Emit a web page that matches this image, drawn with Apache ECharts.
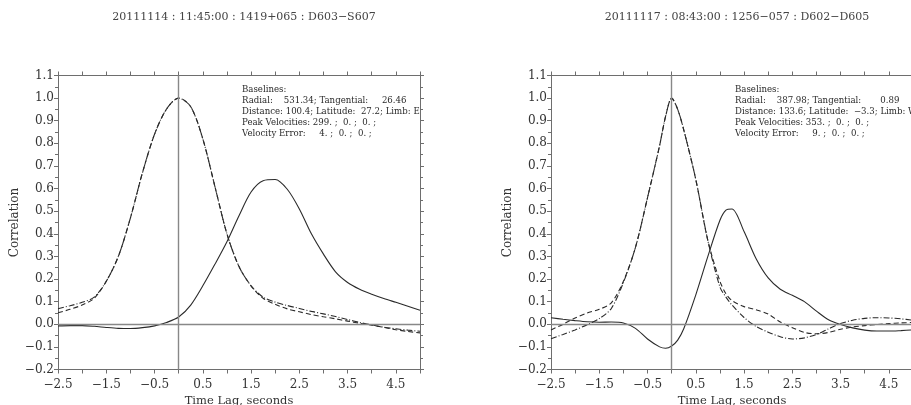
<!DOCTYPE html>
<html><head><meta charset="utf-8">
<script src="https://cdn.jsdelivr.net/npm/echarts@6/dist/echarts.min.js"></script>
<style>html,body{margin:0;padding:0;background:#fff;}#c{width:911px;height:405px;}</style>
</head><body><div id="c"></div>
<script>
// ---- Left chart data ----
var titleL = '20111114 : 11:45:00 : 1419+065 : D603\u2212S607';
var infoL = ['Baselines:', 'Radial:    531.34; Tangential:     26.46', 'Distance: 100.4; Latitude:  27.2; Limb: E', 'Peak Velocities: 299. ;  0. ;  0. ;', 'Velocity Error:     4. ;  0. ;  0. ;'];
var xL = [-2.5,-2.25,-2.0,-1.75,-1.5,-1.25,-1.0,-0.75,-0.5,-0.25,0,0.25,0.5,0.75,1.0,1.25,1.5,1.75,2.0,2.25,2.5,2.75,3.0,3.25,3.5,3.75,4.0,4.25,4.5,4.75,5.0];
var dashedL = [0.051,0.066,0.085,0.115,0.19,0.30,0.47,0.67,0.84,0.952,1.0,0.962,0.82,0.61,0.40,0.255,0.17,0.115,0.088,0.068,0.055,0.043,0.033,0.024,0.014,0.004,-0.004,-0.014,-0.024,-0.032,-0.038];
var dashDotL = [0.069,0.082,0.097,0.12,0.19,0.30,0.47,0.67,0.84,0.952,1.0,0.962,0.82,0.61,0.40,0.255,0.17,0.12,0.098,0.083,0.07,0.057,0.046,0.034,0.021,0.008,-0.003,-0.013,-0.02,-0.026,-0.031];
var solidL = [-0.007,-0.006,-0.006,-0.009,-0.014,-0.018,-0.019,-0.015,-0.007,0.008,0.032,0.085,0.17,0.265,0.365,0.48,0.585,0.635,0.64,0.597,0.51,0.40,0.31,0.232,0.185,0.155,0.133,0.114,0.097,0.08,0.062];

// ---- Right chart data ----
var titleR = '20111117 : 08:43:00 : 1256\u2212057 : D602\u2212D605';
var infoR = ['Baselines:', 'Radial:    387.98; Tangential:       0.89', 'Distance: 133.6; Latitude:  \u22123.3; Limb: W', 'Peak Velocities: 353. ;  0. ;  0. ;', 'Velocity Error:     9. ;  0. ;  0. ;'];
var xR = [-2.5,-2.25,-2.0,-1.75,-1.5,-1.25,-1.0,-0.75,-0.5,-0.25,-0.125,0,0.125,0.25,0.5,0.75,1.0,1.125,1.25,1.5,1.75,2.0,2.25,2.5,2.75,3.0,3.25,3.5,3.75,4.0,4.25,4.5,4.75,5.0];
var dashedR = [-0.025,0.0,0.028,0.05,0.066,0.095,0.19,0.34,0.56,0.79,0.92,1.0,0.95,0.86,0.64,0.37,0.19,0.135,0.105,0.078,0.064,0.045,0.01,-0.015,-0.036,-0.042,-0.036,-0.022,-0.012,-0.006,-0.001,0.003,0.006,0.008];
var dashDotR = [-0.064,-0.045,-0.025,-0.002,0.025,0.07,0.185,0.34,0.56,0.79,0.92,1.0,0.95,0.86,0.64,0.37,0.165,0.12,0.085,0.03,-0.01,-0.035,-0.055,-0.065,-0.06,-0.045,-0.02,0.003,0.018,0.026,0.029,0.028,0.024,0.018];
var solidR = [0.029,0.022,0.016,0.011,0.009,0.01,0.006,-0.018,-0.065,-0.1,-0.106,-0.096,-0.07,-0.02,0.13,0.30,0.46,0.505,0.51,0.41,0.29,0.205,0.155,0.128,0.1,0.058,0.02,-0.001,-0.016,-0.026,-0.03,-0.03,-0.028,-0.025];

var yLabelTitle = 'Correlation';
var xLabelTitle = 'Time Lag, seconds';

var FONT = 'DejaVu Serif';
var AX = '#6e6e6e';
var TXT = '#333';
var CURVE = '#2a2a2a';

function pairs(xs, ys){ return xs.map(function(x,i){ return [x, ys[i]]; }); }
function fmtY(v){ if (Math.abs(v) < 1e-9) return '0.0'; var s = v.toFixed(1); return s.replace('-', '\u2212'); }
function fmtX(v){ var k = Math.round(v*2); if (Math.abs(k % 2) === 1) return v.toFixed(1).replace('-', '\u2212'); return ''; }

function xAxes(gi){
  return [{
    gridIndex: gi, type: 'value', min: -2.5, max: 5.0, interval: 0.5, position: 'bottom',
    name: xLabelTitle, nameLocation: 'middle', nameGap: 22.5,
    nameTextStyle: {fontFamily: FONT, fontSize: 11.5, color: TXT},
    axisLine: {show: true, onZero: false, lineStyle: {color: AX, width: 1}},
    axisTick: {show: true, inside: false, length: 4, lineStyle: {color: AX}},
    axisLabel: {show: true, margin: 9, formatter: fmtX, fontFamily: FONT, fontSize: 12, color: TXT},
    splitLine: {show: false}
  }, {
    gridIndex: gi, type: 'value', min: -2.5, max: 5.0, interval: 0.5, position: 'top',
    axisLine: {show: true, onZero: false, lineStyle: {color: AX, width: 1}},
    axisTick: {show: true, inside: false, length: 4, lineStyle: {color: AX}},
    axisLabel: {show: false}, splitLine: {show: false}
  }];
}
function yAxes(gi){
  return [{
    gridIndex: gi, type: 'value', min: -0.2, max: 1.1, interval: 0.1, position: 'left',
    name: yLabelTitle, nameLocation: 'middle', nameGap: 35, nameRotate: 90,
    nameTextStyle: {fontFamily: FONT, fontSize: 12, color: TXT},
    axisLine: {show: true, onZero: false, lineStyle: {color: AX, width: 1}},
    axisTick: {show: true, inside: false, length: 4, lineStyle: {color: AX}},
    minorTick: {show: true, splitNumber: 2, length: 3, lineStyle: {color: AX}},
    axisLabel: {show: true, margin: 4, formatter: fmtY, fontFamily: FONT, fontSize: 12, color: TXT},
    splitLine: {show: false}
  }, {
    gridIndex: gi, type: 'value', min: -0.2, max: 1.1, interval: 0.1, position: 'right',
    axisLine: {show: true, onZero: false, lineStyle: {color: AX, width: 1}},
    axisTick: {show: true, inside: false, length: 4, lineStyle: {color: AX}},
    minorTick: {show: true, splitNumber: 2, length: 3, lineStyle: {color: AX}},
    axisLabel: {show: false}, splitLine: {show: false}
  }];
}
function curve(xi, yi, data, type, withMark){
  var s = {
    type: 'line', xAxisIndex: xi, yAxisIndex: yi, data: data, smooth: 0.3, showSymbol: false,
    lineStyle: {color: CURVE, width: 1.1, type: type}, z: 3, silent: true
  };
  if (withMark){
    s.markLine = {
      silent: true, symbol: 'none', label: {show: false}, animation: false,
      lineStyle: {color: '#888', width: 1.4, type: 'solid'},
      data: [{xAxis: 0}, {yAxis: 0}]
    };
  }
  return s;
}
function infoText(x, lines){
  return {type: 'text', x: x, y: 84, z: 10, style: {text: lines.join('\n'), font: '8.6px "' + FONT + '"', fill: '#2a2a2a', lineHeight: 11}};
}

var chart = echarts.init(document.getElementById('c'), null, {renderer: 'canvas'});
chart.setOption({
  animation: false,
  backgroundColor: '#fff',
  title: [
    {text: titleL, left: 239, top: 7, textAlign: 'center', textStyle: {fontFamily: FONT, fontSize: 11, fontWeight: 'normal', color: '#444'}},
    {text: titleR, left: 732, top: 7, textAlign: 'center', textStyle: {fontFamily: FONT, fontSize: 11, fontWeight: 'normal', color: '#444'}}
  ],
  grid: [
    {left: 58, top: 75.5, width: 362, height: 294, containLabel: false, outerBoundsMode: 'none'},
    {left: 551, top: 75.5, width: 362, height: 294, containLabel: false, outerBoundsMode: 'none'}
  ],
  xAxis: xAxes(0).concat(xAxes(1)),
  yAxis: yAxes(0).concat(yAxes(1)),
  graphic: [infoText(242, infoL), infoText(735, infoR)],
  series: [
    curve(0, 0, pairs(xL, solidL), 'solid', true),
    curve(0, 0, pairs(xL, dashedL), [5, 3], false),
    curve(0, 0, pairs(xL, dashDotL), [6, 2, 1, 2], false),
    curve(2, 2, pairs(xR, solidR), 'solid', true),
    curve(2, 2, pairs(xR, dashedR), [5, 3], false),
    curve(2, 2, pairs(xR, dashDotR), [6, 2, 1, 2], false)
  ]
});
</script>
</body></html>
